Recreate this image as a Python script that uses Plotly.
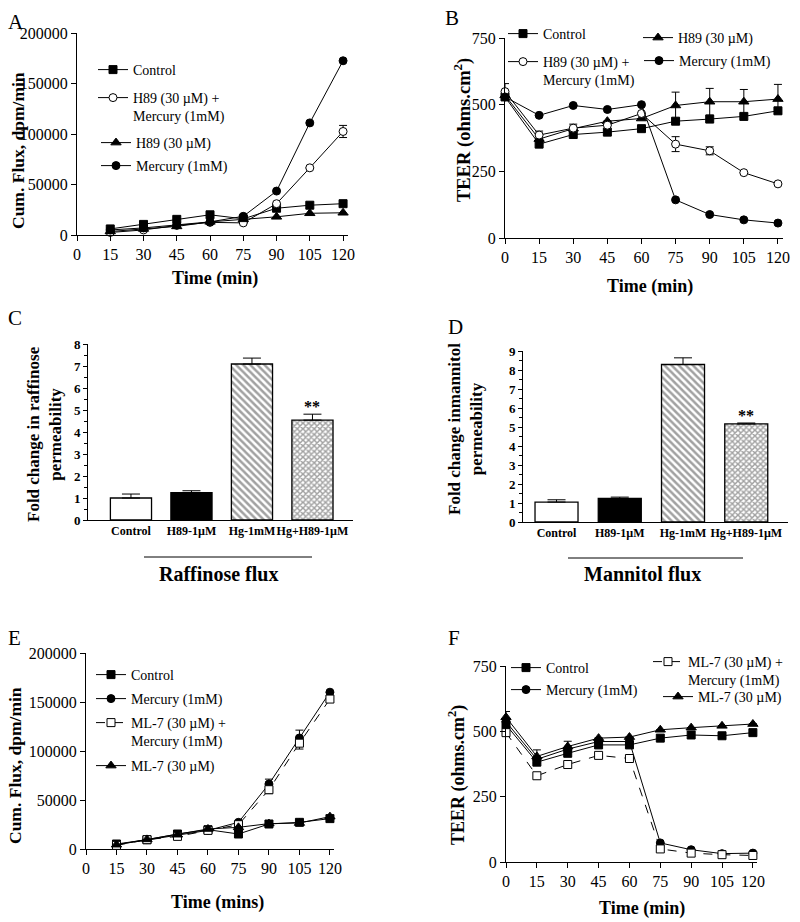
import plotly.graph_objects as go

W, H = 800, 922
FONT = "Liberation Serif"

# ---------------- DATA ----------------
time_15 = [15, 30, 45, 60, 75, 90, 105, 120]
time_0 = [0, 15, 30, 45, 60, 75, 90, 105, 120]
time_ticks = [0, 15, 30, 45, 60, 75, 90, 105, 120]

# Panel A - cumulative flux (dpm/min)
A_control = [6000, 10500, 15500, 20000, 16000, 26500, 29500, 31000]
A_h89_hg = [2500, 5000, 9500, 12500, 12000, 31000, 66500, 102500]
A_h89_hg_err = [0, 0, 0, 0, 0, 0, 0, 6000]
A_h89 = [3500, 6000, 8500, 13000, 15500, 18000, 21500, 22000]
A_hg = [5000, 7000, 10000, 13000, 18500, 43500, 111000, 172500]

# Panel B - TEER
B_control = [529, 352, 388, 397, 410, 438, 446, 456, 477]
B_h89 = [535, 371, 410, 438, 448, 497, 511, 511, 521]
B_h89_err = [0, 0, 0, 0, 0, 50, 50, 46, 55]
B_h89_hg = [549, 386, 412, 423, 467, 352, 327, 245, 203]
B_h89_hg_err = [30, 15, 15, 0, 0, 28, 15, 0, 0]
B_hg = [529, 460, 497, 482, 500, 143, 88, 68, 56]

# Panel C - raffinose permeability fold change
bar_cats = ["Control", "H89-1µM", "Hg-1mM", "Hg+H89-1µM"]
C_vals = [1.0, 1.24, 7.09, 4.54]
C_err = [0.18, 0.09, 0.27, 0.27]

# Panel D - mannitol permeability fold change
D_vals = [1.05, 1.24, 8.29, 5.16]
D_err = [0.12, 0.07, 0.35, 0.05]

# Panel E - cumulative flux
E_control = [5100, 9500, 15300, 19700, 15300, 25500, 27200, 31000]
E_hg = [4400, 9500, 14600, 19000, 27200, 66300, 113300, 160000]
E_hg_err = [0, 0, 0, 0, 0, 5000, 8000, 0]
E_ml7_hg = [3700, 9500, 12900, 19000, 24800, 60500, 108000, 153000]
E_ml7_hg_err = [0, 0, 0, 0, 0, 4000, 6000, 0]
E_ml7 = [4400, 9800, 14600, 20400, 22100, 25900, 26500, 33000]

# Panel F - TEER
F_control = [525, 382, 416, 448, 448, 474, 486, 483, 495]
F_hg = [537, 393, 432, 461, 461, 73, 47, 32, 34]
F_ml7_hg = [495, 330, 373, 408, 396, 50, 34, 28, 25]
F_ml7 = [554, 404, 442, 474, 478, 506, 514, 521, 528]
F_ml7_err = [22, 25, 20, 0, 0, 0, 0, 0, 0]


def px(x):
    return x / W


def py(y):
    return 1 - y / H


fig = go.Figure()
legends = {}
leg_count = [0]


def add_line(xa, ya, xs, ys, name, symbol, text_x, leg_y, err=None, dash="solid", open_marker=False):
    leg_count[0] += 1
    lid = "legend" if leg_count[0] == 1 else f"legend{leg_count[0]}"
    legends[lid] = dict(
        x=px(text_x - 40), y=py(leg_y), xanchor="left", yanchor="middle",
        bgcolor="rgba(0,0,0,0)", borderwidth=0, font=dict(family=FONT, size=14, color="black"),
        itemwidth=30, valign="top", tracegroupgap=0, itemclick=False, itemdoubleclick=False,
    )
    tr = go.Scatter(
        x=xs, y=ys, name=name, mode="lines+markers", xaxis=xa, yaxis=ya, legend=lid,
        line=dict(color="black", width=1, dash=dash),
        marker=dict(symbol=symbol, size=8 if symbol != "triangle-up" else 9,
                    color="white" if open_marker else "black",
                    line=dict(color="black", width=1)),
        cliponaxis=False, showlegend=True,
    )
    if err is not None:
        tr.error_y = dict(type="data", array=err, visible=True, color="black", thickness=1, width=4)
    fig.add_trace(tr)


# Panel A
add_line("x", "y", time_15, A_control, "Control", "square", 133, 70)
add_line("x", "y", time_15, A_h89_hg, "H89 (30 µM) +<br>Mercury (1mM)", "circle", 133, 107,
         err=A_h89_hg_err, open_marker=True)
add_line("x", "y", time_15, A_h89, "H89 (30 µM)", "triangle-up", 136, 143)
add_line("x", "y", time_15, A_hg, "Mercury (1mM)", "circle", 136, 166)

# Panel B
add_line("x2", "y2", time_0, B_control, "Control", "square", 543, 34)
add_line("x2", "y2", time_0, B_h89, "H89 (30 µM)", "triangle-up", 678, 38, err=B_h89_err)
add_line("x2", "y2", time_0, B_h89_hg, "H89 (30 µM) +<br>Mercury (1mM)", "circle", 543, 71,
         err=B_h89_hg_err, open_marker=True)
add_line("x2", "y2", time_0, B_hg, "Mercury (1mM)", "circle", 679, 61)

# Panel E
add_line("x5", "y5", time_15, E_control, "Control", "square", 131, 675)
add_line("x5", "y5", time_15, E_hg, "Mercury (1mM)", "circle", 131, 699, err=E_hg_err)
add_line("x5", "y5", time_15, E_ml7_hg, "ML-7 (30 µM) +<br>Mercury (1mM)", "square", 131, 732,
         err=E_ml7_hg_err, dash="dash", open_marker=True)
add_line("x5", "y5", time_15, E_ml7, "ML-7 (30 µM)", "triangle-up", 131, 766)

# Panel F
add_line("x6", "y6", time_0, F_control, "Control", "square", 546, 668)
add_line("x6", "y6", time_0, F_hg, "Mercury (1mM)", "circle", 546, 690)
add_line("x6", "y6", time_0, F_ml7_hg, "ML-7 (30 µM) +<br>Mercury (1mM)", "square", 688, 671,
         dash="dash", open_marker=True)
add_line("x6", "y6", time_0, F_ml7, "ML-7 (30 µM)", "triangle-up", 698, 697, err=F_ml7_err)

# Bars C and D
bar_pattern = dict(shape=["", "", "\\", "x"], fgcolor="black", bgcolor="white",
                   size=[8, 8, 5, 4], solidity=[0.3, 0.3, 0.5, 0.6])
for xa, ya, vals, errs in (("x3", "y3", C_vals, C_err), ("x4", "y4", D_vals, D_err)):
    fig.add_trace(go.Bar(
        x=[0, 1, 2, 3], y=vals, xaxis=xa, yaxis=ya, width=0.68, showlegend=False,
        marker=dict(color=["white", "black", "white", "white"],
                    line=dict(color="black", width=1.3), pattern=bar_pattern),
        error_y=dict(type="data", array=errs, arrayminus=[0, 0, 0, 0], visible=True,
                     color="black", thickness=1, width=9),
    ))

axis_common = dict(showline=True, linecolor="black", linewidth=1, ticks="outside",
                   ticklen=5, tickcolor="black", showgrid=False, zeroline=False,
                   tickfont=dict(family=FONT, size=16, color="black"))


def time_x(d0, d1, anchor):
    return dict(axis_common, domain=[px(d0), px(d1)], range=[0, 122], tickvals=time_ticks,
                anchor=anchor)


def val_y(d_top, d_bot, rng, dtick, anchor, fmt="d"):
    return dict(axis_common, domain=[py(d_bot), py(d_top)], range=rng, dtick=dtick,
                tickformat=fmt, anchor=anchor)


bar_tick = dict(family=FONT, size=12, color="black", weight="bold")
bar_ytick = dict(family=FONT, size=13, color="black", weight="bold")

fig.update_layout(
    width=W, height=H,
    margin=dict(l=0, r=0, t=0, b=0, autoexpand=False),
    paper_bgcolor="white", plot_bgcolor="white",
    font=dict(family=FONT, color="black"),
    xaxis=time_x(77, 347.5, "y"),
    yaxis=val_y(33, 235, [0, 200000], 50000, "x"),
    xaxis2=time_x(505, 782.5, "y2"),
    yaxis2=val_y(38, 238, [0, 750], 250, "x2"),
    xaxis3=dict(axis_common, domain=[px(88), px(353)], range=[-0.71, 3.67], anchor="y3",
                ticks="", tickvals=[0, 1, 2, 3], ticktext=bar_cats, tickfont=bar_tick,
                tickangle=0),
    yaxis3=dict(axis_common, domain=[py(520), py(344)], range=[0, 8], dtick=1, anchor="x3",
                ticklen=4, tickfont=bar_ytick,
                minor=dict(ticks="outside", dtick=0.5, ticklen=3, tickcolor="black")),
    xaxis4=dict(axis_common, domain=[px(523), px(788)], range=[-0.53, 3.66], anchor="y4",
                ticks="", tickvals=[0, 1, 2, 3], ticktext=bar_cats, tickfont=bar_tick,
                tickangle=0),
    yaxis4=dict(axis_common, domain=[py(522), py(351)], range=[0, 9], dtick=1, anchor="x4",
                ticklen=4, tickfont=bar_ytick,
                minor=dict(ticks="outside", dtick=0.5, ticklen=3, tickcolor="black")),
    xaxis5=time_x(86, 334, "y5"),
    yaxis5=val_y(653, 849, [0, 200000], 50000, "x5"),
    xaxis6=time_x(506, 757, "y6"),
    yaxis6=val_y(666, 862, [0, 750], 250, "x6"),
    **legends,
)

ann = []


def text(x, y, s, size, bold=False, angle=0, xanchor="center", yanchor="middle"):
    ann.append(dict(x=px(x), y=py(y), xref="paper", yref="paper", text=s, showarrow=False,
                    textangle=angle, xanchor=xanchor, yanchor=yanchor,
                    font=dict(family=FONT, size=size, color="black",
                              weight="bold" if bold else "normal")))


# Panel letters
for letter, lx, ly in (("A", 16, 22), ("B", 452, 18), ("C", 15, 318),
                       ("D", 455, 327), ("E", 14, 638), ("F", 454, 638)):
    text(lx, ly, letter, 21)

# Axis titles
text(18, 151, "Cum. Flux, dpm/min", 17.5, True, -90)
text(215, 278, "Time (min)", 18, True)
text(463, 130, "TEER (ohms.cm<sup>2</sup>)", 18.5, True, -90)
text(650, 286, "Time (min)", 18, True)
text(44, 434, "Fold change in raffinose<br>permeability", 17, True, -90)
text(466, 429, "Fold change inmannitol<br>permeability", 17, True, -90)
text(15, 766, "Cum. Flux, dpm/min", 17.5, True, -90)
text(217, 902, "Time (mins)", 18, True)
text(457, 775, "TEER (ohms.cm<sup>2</sup>)", 18, True, -90)
text(642, 908, "Time (min)", 18, True)

# Group titles under bar charts
text(218, 574, "Raffinose flux", 20, True)
text(642, 574, "Mannitol flux", 20, True)

# Significance stars
for xr, yr, v, e in (("x3", "y3", C_vals[3], C_err[3]), ("x4", "y4", D_vals[3], D_err[3])):
    ann.append(dict(x=3, y=v + e, xref=xr, yref=yr, text="**", showarrow=False,
                    yanchor="bottom", yshift=-3,
                    font=dict(family=FONT, size=16, color="black", weight="bold")))

fig.update_layout(annotations=ann)

fig.add_shape(type="line", xref="paper", yref="paper", x0=px(144), x1=px(312), y0=py(557), y1=py(557),
              line=dict(color="black", width=1))
fig.add_shape(type="line", xref="paper", yref="paper", x0=px(568), x1=px(743), y0=py(558), y1=py(558),
              line=dict(color="black", width=1))

fig.write_html(
    "out.html",
    config={"displayModeBar": False},
    post_script="document.body.style.margin='0';document.body.style.overflow='hidden';",
)
